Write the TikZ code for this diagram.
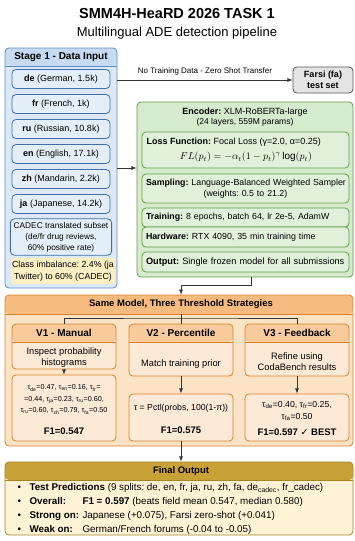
\documentclass[tikz,border=0pt]{standalone}
\usepackage{fontspec}
\setmainfont{Liberation Sans}
\newfontfamily\symfont{DejaVu Sans}
\usepackage{amsmath}
\usepackage{xcolor}
\usepackage{tikz}
\frenchspacing

\definecolor{blueFill}{HTML}{DCE8F6}
\definecolor{blueHdr}{HTML}{C6DAF1}
\definecolor{blueLine}{HTML}{5B8EC9}
\definecolor{langFill}{HTML}{E4EEF9}
\definecolor{langLine}{HTML}{3F6FA8}
\definecolor{noteFill}{HTML}{FCEFC4}
\definecolor{grayFill}{HTML}{E4E4E4}
\definecolor{grayLine}{HTML}{555555}
\definecolor{greenFill}{HTML}{D6EACD}
\definecolor{greenIn}{HTML}{E1F0DA}
\definecolor{greenLine}{HTML}{5E9E45}
\definecolor{orFill}{HTML}{FDE3C6}
\definecolor{orHdr}{HTML}{F7BB80}
\definecolor{orLine}{HTML}{D9822B}
\definecolor{vFill}{HTML}{FDEAD6}
\definecolor{vHdr}{HTML}{F9CA9B}
\definecolor{finFill}{HTML}{FEF3D5}
\definecolor{finHdr}{HTML}{C9A237}
\definecolor{finLine}{HTML}{A88420}

\begin{document}
\begin{tikzpicture}[x=1pt,y=-1pt,
	panel/.style={rectangle,rounded corners=4pt,line width=0.8pt},
	hdr/.style n args={3}{path picture={
		\fill[#1] (path picture bounding box.north west) rectangle ([yshift=-#2]path picture bounding box.north east);
		\draw[#3,line width=0.8pt] ([yshift=-#2]path picture bounding box.north west) -- ([yshift=-#2]path picture bounding box.north east);}},
	langbox/.style={panel,fill=langFill,draw=langLine,minimum width=98pt,minimum height=19pt,font=\fontsize{9}{11}\selectfont},
	innerbox/.style={panel,fill=greenIn,draw=greenLine,minimum width=207pt,text width=199pt,inner xsep=4pt,font=\fontsize{8.8}{10.5}\selectfont},
	vbox/.style={panel,fill=vFill,draw=orLine,minimum width=104pt},
	vtitle/.style={font=\bfseries\fontsize{10}{12}\selectfont},
	vtext/.style={align=center,font=\fontsize{9.3}{11}\selectfont},
	ftext/.style={font=\bfseries\fontsize{9.5}{11}\selectfont},
	link/.style={draw=black!80,line width=0.8pt,-latex},
	]
	\useasboundingbox (0,0) rectangle (354,541);

	\node[font=\bfseries\fontsize{14.5}{18}\selectfont] (title) at (177,14) {SMM4H-HeaRD 2026 TASK 1};
	\node[font=\fontsize{13}{15}\selectfont] (subtitle) at (177,33) {Multilingual ADE detection pipeline};

	\node[panel,fill=blueFill,draw=blueLine,hdr={blueHdr}{18pt}{blueLine},minimum width=112pt,minimum height=240pt] (stage) at (61,168) {};
	\node[font=\bfseries\fontsize{10}{12}\selectfont] (stagehdr) at (61,57) {Stage 1 - Data Input};
	\node[langbox] (de) at (61,79) {\textbf{de} (German, 1.5k)};
	\node[langbox] (fr) at (61,104) {\textbf{fr} (French, 1k)};
	\node[langbox] (ru) at (61,129) {\textbf{ru} (Russian, 10.8k)};
	\node[langbox] (en) at (61,154) {\textbf{en} (English, 17.1k)};
	\node[langbox] (zh) at (61,179) {\textbf{zh} (Mandarin, 2.2k)};
	\node[langbox] (ja) at (61,204) {\textbf{ja} (Japanese, 14.2k)};
	\node[langbox,minimum height=36pt,align=center,font=\fontsize{8.3}{11}\selectfont] (cadec) at (61,237) {CADEC translated subset\\(de/fr drug reviews,\\60\% positive rate)};
	\node[fill=noteFill,minimum width=104pt,minimum height=26pt,inner xsep=1pt,align=center,font=\fontsize{8.8}{11.5}\selectfont] (note) at (63,271) {Class imbalance: 2.4\% (ja\\Twitter) to 60\% (CADEC)};

	\node[panel,fill=grayFill,draw=grayLine,minimum width=60pt,minimum height=26pt,align=center,font=\bfseries\fontsize{9}{11}\selectfont] (fa) at (323,80) {Farsi (fa)\\test set};
	\draw[link] (stage.east |- fa.west) -- node[above=1pt,font=\fontsize{8}{9}\selectfont] {No Training Data - Zero Shot Transfer} (fa.west);

	\node[panel,fill=greenFill,draw=greenLine,minimum width=216pt,minimum height=175pt] (enc) at (245,189.5) {};
	\node[font=\fontsize{9}{11}\selectfont] (enchdr) at (245,112) {\textbf{Encoder:} XLM-RoBERTa-large};
	\node[font=\fontsize{8.5}{10}\selectfont] (encsub) at (245,122.5) {(24 layers, 559M params)};
	\node[innerbox,minimum height=36pt] (loss) at (245.5,150) {};
	\node[anchor=west,font=\fontsize{9}{10}\selectfont] (losstxt) at (143,142) {\textbf{Loss Function:} Focal Loss (γ=2.0, α=0.25)};
	\node[font=\fontsize{10}{12}\selectfont] (focal) at (246,157) {$FL(p_t) = -\alpha_t(1-p_t)^\gamma \log(p_t)$};
	\node[innerbox,minimum height=29pt,align=center] (samp) at (245.5,188.5) {\mbox{\textbf{Sampling:} Language-Balanced Weighted Sampler}\\(weights: 0.5 to 21.2)};
	\node[innerbox,minimum height=19pt,align=left] (train) at (245.5,217.5) {\mbox{\textbf{Training:} 8 epochs, batch 64, lr 2e-5, AdamW}};
	\node[innerbox,minimum height=20pt,align=left] (hw) at (245.5,237) {\mbox{\textbf{Hardware:} RTX 4090, 35 min training time}};
	\node[innerbox,minimum height=20pt,align=left,font=\fontsize{9.2}{10.5}\selectfont] (out) at (245.5,262) {\mbox{\textbf{Output:} Single frozen model for all submissions}};
	\draw[link] (stage.east) -- (stage.east -| enc.west);

	\node[panel,fill=orFill,draw=orLine,hdr={orHdr}{19pt}{orLine},minimum width=348pt,minimum height=151pt] (strat) at (179,370.5) {};
	\node[font=\bfseries\fontsize{9.5}{11}\selectfont,minimum height=19pt] (strathdr) at (181,304.5) {Same Model, Three Threshold Strategies};
	\draw[link] ([xshift=6pt]enc.south) -- ++(0,8) -| (strathdr.north);

	\node[vbox,hdr={vHdr}{18pt}{orLine},minimum height=45pt] (v1top) at (64,346.5) {};
	\node[vtitle] (v1hdr) at (64,333) {V1 - Manual};
	\node[vtext] (v1desc) at (64,357.5) {Inspect probability\\histograms};
	\node[vbox,minimum height=66pt] (v1bot) at (64,408) {};
	\node[align=center,font=\fontsize{7.2}{11.5}\selectfont] (v1tau) at (64,399.5) {τ\textsubscript{de}=0.47, τ\textsubscript{en}=0.16, τ\textsubscript{fr}=\\=0.44, τ\textsubscript{ja}=0.23, τ\textsubscript{ru}=0.60,\\τ\textsubscript{ru}=0.60, τ\textsubscript{zh}=0.79, τ\textsubscript{fa}=0.50};
	\node[ftext] (v1f1) at (64,431) {F1=0.547};
	\draw[link] (v1top.south) -- (v1bot.north);

	\node[vbox,hdr={vHdr}{18pt}{orLine},minimum height=52pt] (v2top) at (181,350) {};
	\node[vtitle] (v2hdr) at (181,333) {V2 - Percentile};
	\node[vtext] (v2desc) at (181,364) {Match training prior};
	\node[vbox,minimum height=47pt] (v2bot) at (181,417.5) {};
	\node[font=\fontsize{8.7}{10}\selectfont] (v2tau) at (181,408) {τ = Pctl(probs, 100(1-π))};
	\node[ftext] (v2f1) at (181,430) {F1=0.575};
	\draw[link] (v2top.south) -- (v2bot.north);

	\node[vbox,hdr={vHdr}{18pt}{orLine},minimum height=52pt] (v3top) at (297,350) {};
	\node[vtitle] (v3hdr) at (297,333) {V3 - Feedback};
	\node[vtext] (v3desc) at (297,362) {Refine using\\CodaBench results};
	\node[vbox,minimum height=47pt] (v3bot) at (297,417.5) {};
	\node[align=center,font=\fontsize{8.7}{12}\selectfont] (v3tau) at (297,411) {τ\textsubscript{de}=0.40, τ\textsubscript{fr}=0.25,\\τ\textsubscript{fa}=0.50};
	\node[ftext] (v3f1) at (297,432) {F1=0.597 {\symfont ✓} BEST};
	\draw[link] (v3top.south) -- (v3bot.north);

	\coordinate (split) at (181,318);
	\draw[draw=black!80,line width=0.8pt] (strathdr.south) -- (split);
	\draw[draw=black!80,line width=0.8pt] (v1top.north) |- (split) -| (v3top.north);
	\draw[draw=black!80,line width=0.8pt] (split) -- (v2top.north);

	\node[panel,fill=finFill,draw=finLine,hdr={finHdr}{18pt}{finLine},minimum width=348pt,minimum height=73pt] (final) at (179,498.5) {};
	\node[ftext] (finhdr) at (181,471) {Final Output};
	\node[anchor=west,align=left,font=\fontsize{9.8}{14}\selectfont] (finlist) at (14,509) {%
		\makebox[12pt][l]{•}\textbf{Test Predictions} (9 splits: de, en, fr, ja, ru, zh, fa, de\textsubscript{cadec}, fr\_cadec)\\
		\makebox[12pt][l]{•}\makebox[53pt][l]{\textbf{Overall:}}\textbf{F1 = 0.597} (beats field mean 0.547, median 0.580)\\
		\makebox[12pt][l]{•}\makebox[53pt][l]{\textbf{Strong on:}}Japanese (+0.075), Farsi zero-shot (+0.041)\\
		\makebox[12pt][l]{•}\makebox[53pt][l]{\textbf{Weak on:}}German/French forums (-0.04 to -0.05)};
	\draw[link] (v2bot.south) -- (v2bot.south |- final.north);
\end{tikzpicture}
\end{document}
